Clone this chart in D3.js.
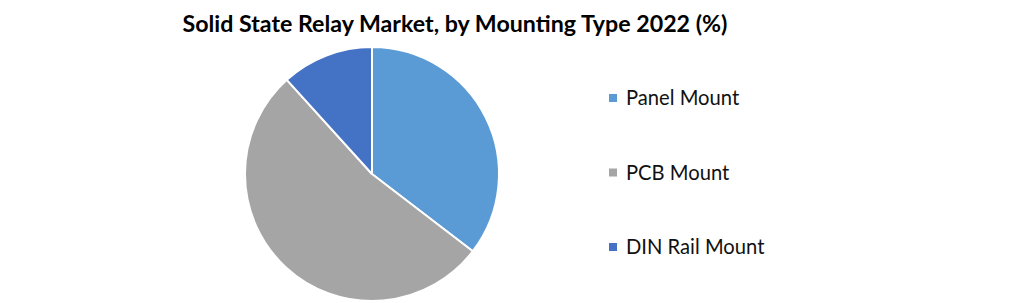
<!DOCTYPE html>
<html>
<head>
<meta charset="utf-8">
<script src="https://cdn.jsdelivr.net/npm/d3@7"></script>
<style>
  body { margin: 0; background: #fff; }
  svg { display: block; }
</style>
</head>
<body>
<svg id="chart"></svg>
<script>
const W = 1020, H = 303;

// data
const categories = ['Panel Mount', 'PCB Mount', 'DIN Rail Mount'];
const shares = [35.4, 52.9, 11.7];
const colors = ['#5B9BD5', '#A5A5A5', '#4472C4'];
const title = 'Solid State Relay Market, by Mounting Type 2022 (%)';

const svg = d3.select('#chart')
    .attr('width', W)
    .attr('height', H);

svg.append('rect')
    .attr('width', W)
    .attr('height', H)
    .attr('fill', '#fff');

svg.append('text')
    .attr('x', 455)
    .attr('y', 32)
    .attr('text-anchor', 'middle')
    .attr('font-family', 'Lato, "Open Sans", sans-serif')
    .attr('font-weight', 'bold')
    .attr('font-size', 23.2)
    .attr('fill', '#000')
    .text(title);

//*****PIE*****
const cx = 372, cy = 174, r = 127;

const pieGen = d3.pie().sort(null).value(d => d);
const arcGen = d3.arc().innerRadius(0).outerRadius(r);

const g = svg.append('g')
    .attr('transform', `translate(${cx},${cy})`);

g.selectAll('path')
    .data(pieGen(shares))
    .enter()
    .append('path')
    .attr('d', arcGen)
    .attr('fill', (d, i) => colors[i])
    .attr('stroke', '#fff')
    .attr('stroke-width', 2)
    .attr('stroke-linejoin', 'round');

//*****LEGEND*****
const legendY = d3.scalePoint()
    .domain(categories)
    .range([98, 247]);

const legend = svg.selectAll('.legend')
    .data(categories)
    .enter().append('g')
    .attr('class', 'legend')
    .attr('transform', d => `translate(609,${legendY(d)})`);

legend.append('rect')
    .attr('x', 0)
    .attr('y', -4)
    .attr('width', 8)
    .attr('height', 8)
    .attr('fill', (d, i) => colors[i]);

legend.append('text')
    .attr('x', 17)
    .attr('y', 0)
    .attr('dy', '0.35em')
    .attr('font-family', 'Lato, "Open Sans", sans-serif')
    .attr('font-size', 20.2)
    .attr('fill', '#111')
    .text(d => d);
</script>
</body>
</html>
